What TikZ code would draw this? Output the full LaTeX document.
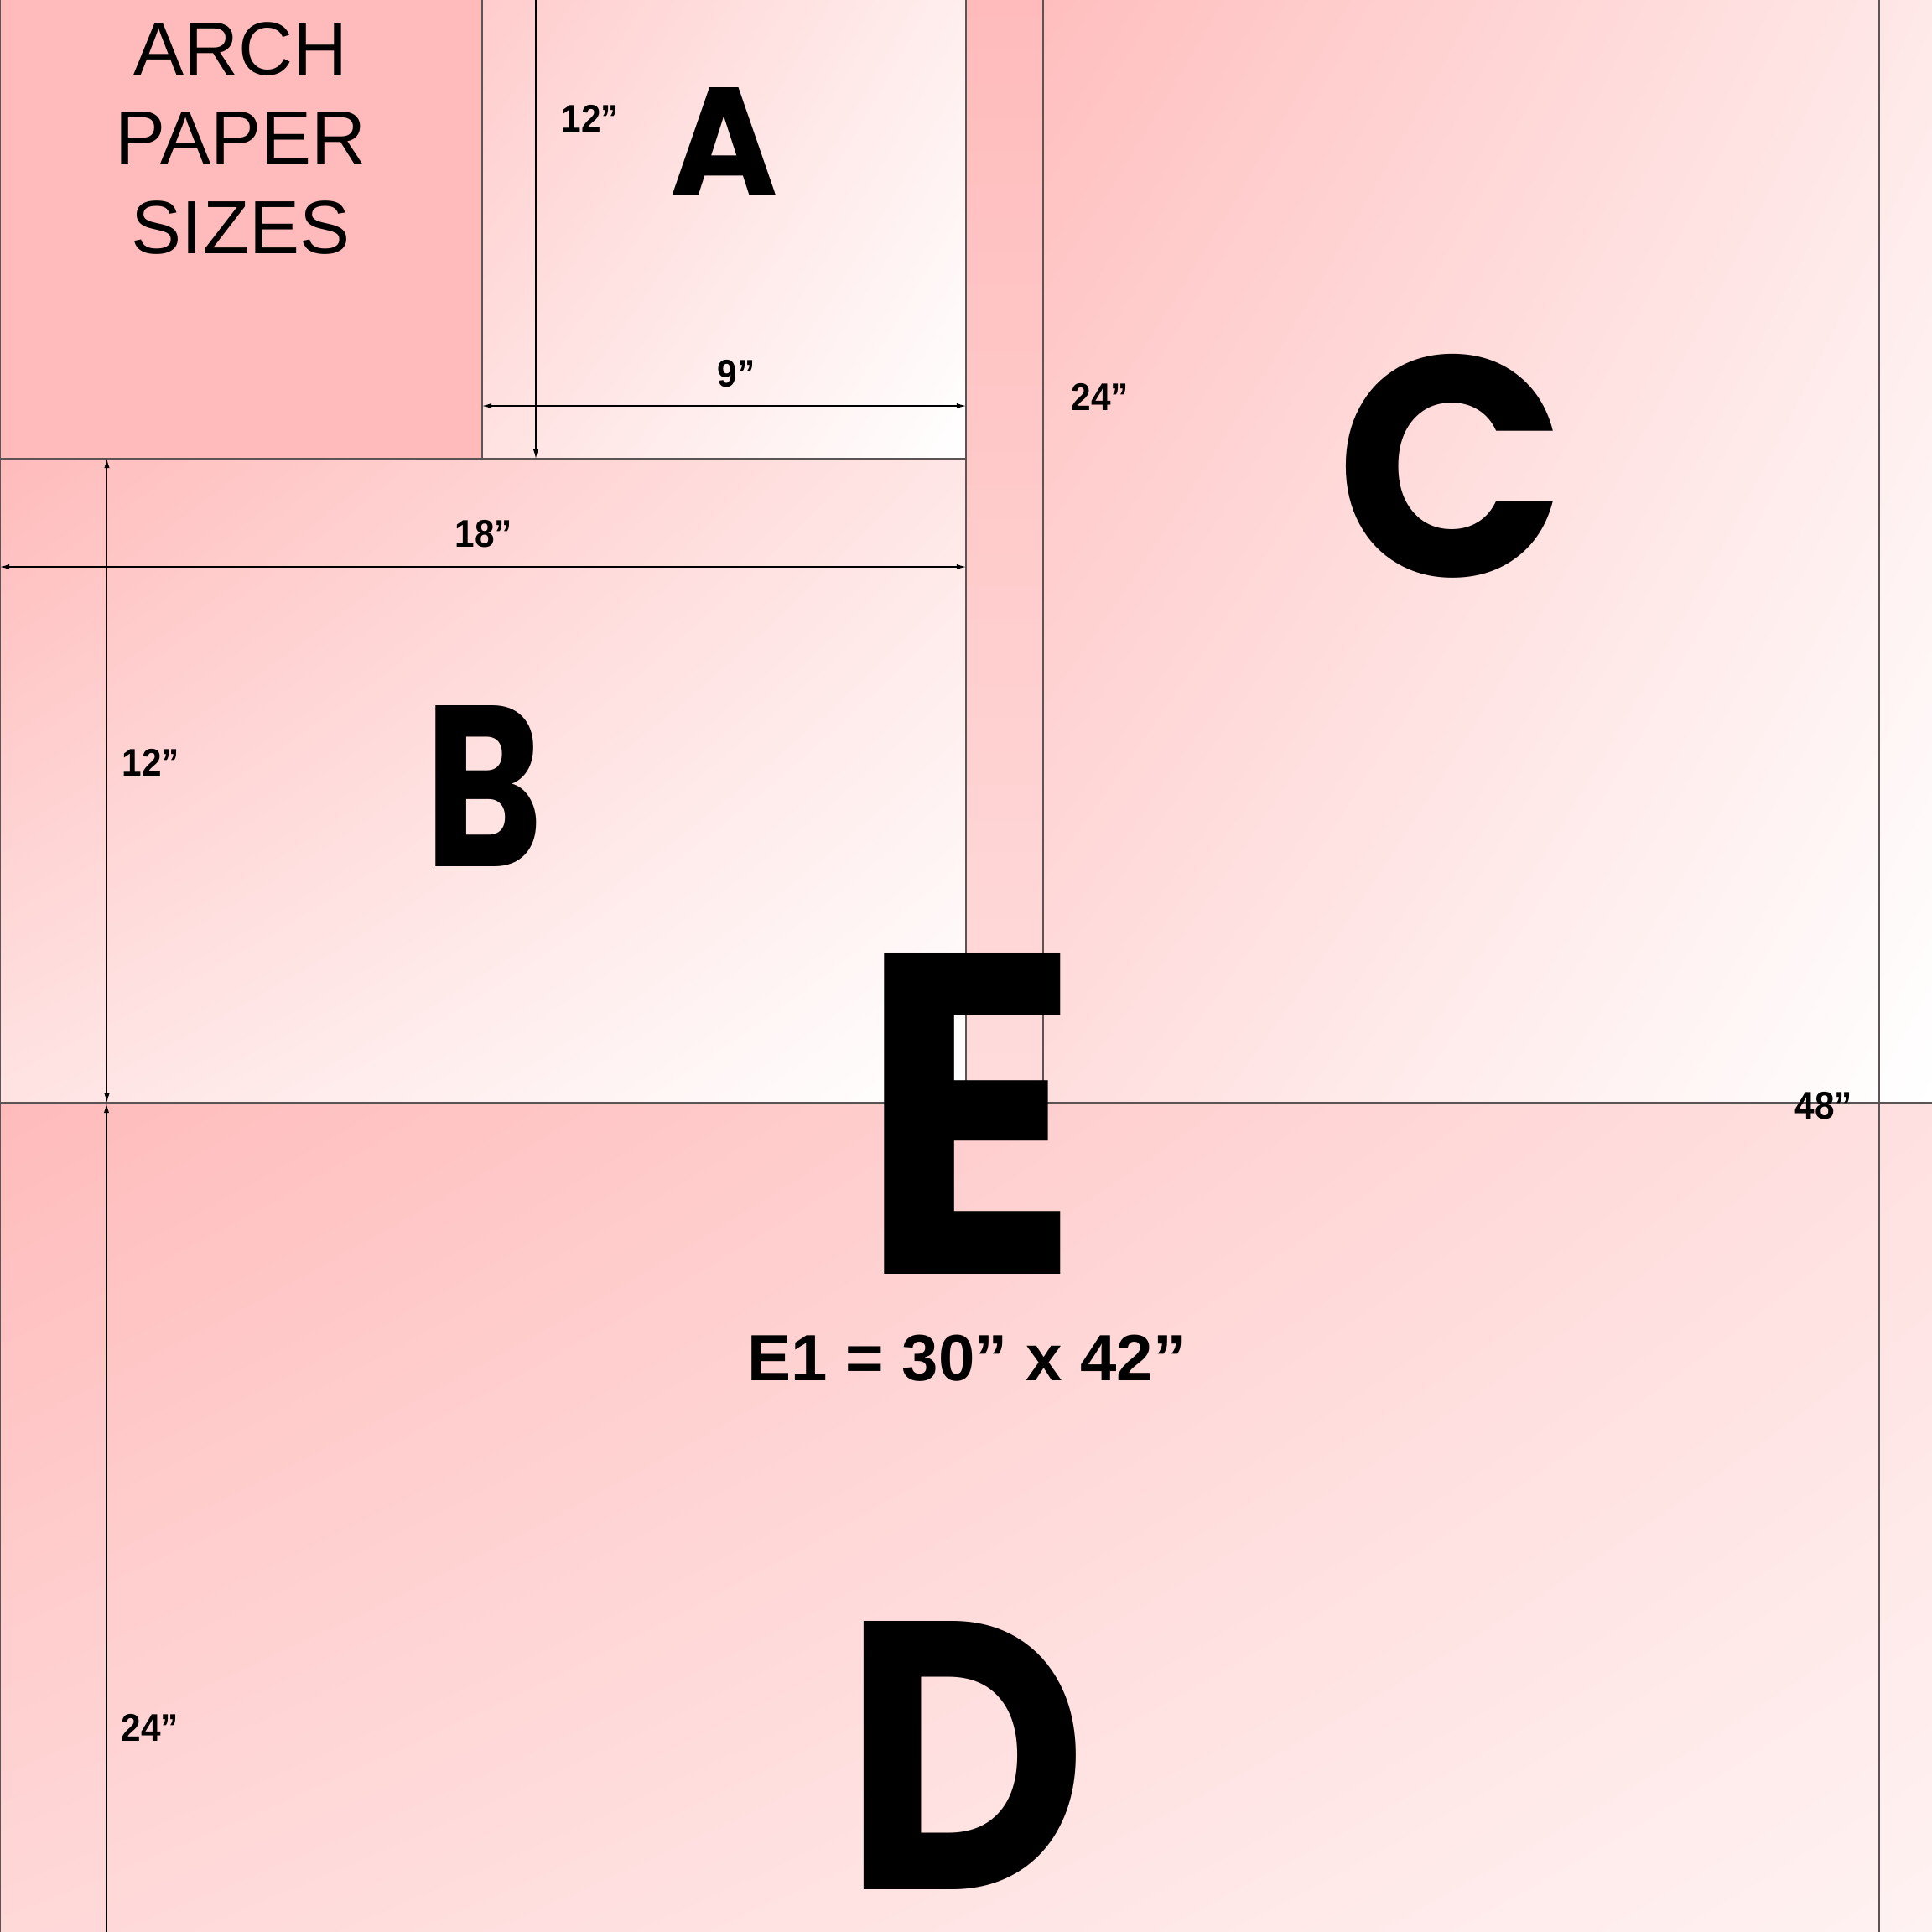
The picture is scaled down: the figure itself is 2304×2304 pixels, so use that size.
\documentclass[tikz,border=0pt]{standalone}
\usepackage{graphicx}
\usepackage{fontspec}
\setmainfont{Liberation Sans}
\newfontfamily\bigfont{Poppins}
\newfontfamily\lblfont{Liberation Sans}[FakeStretch=0.92]
\usetikzlibrary{arrows.meta,shadings}
\definecolor{pinkbase}{RGB}{255,187,187}
\definecolor{stripbot}{RGB}{255,220,220}
\definecolor{aUL}{RGB}{255,204,204}
\definecolor{aUR}{RGB}{255,238,238}
\definecolor{aLL}{RGB}{255,226,226}
\definecolor{bUL}{RGB}{255,187,187}
\definecolor{bUR}{RGB}{255,230,230}
\definecolor{bLL}{RGB}{255,227,227}
\definecolor{cUL}{RGB}{255,190,190}
\definecolor{cUR}{RGB}{255,232,232}
\definecolor{cLL}{RGB}{255,222,222}
\definecolor{dUL}{RGB}{255,187,187}
\definecolor{dUR}{RGB}{255,224,224}
\definecolor{dLL}{RGB}{255,216,216}
\definecolor{dLR}{RGB}{255,242,242}
\definecolor{rulegray}{RGB}{90,84,84}
\newcommand\inkletter[3]{%
  \begingroup
  \setbox0=\hbox{#1}%
  \dimen0=\XeTeXglyphbounds1 \XeTeXcharglyph`#1\relax
  \dimen2=\XeTeXglyphbounds3 \XeTeXcharglyph`#1\relax
  \setbox2=\hbox{\kern-\dimen0\box0\kern-\dimen2}%
  \resizebox*{#2}{#3}{\box2}%
  \endgroup}
\begin{document}
\begin{tikzpicture}[x=0.25pt,y=-0.25pt,
  rule/.style={draw=rulegray,line width=0.38pt},
  dimline/.style={draw=black,line width=0.33pt},
  dimboth/.style={dimline,{Latex[length=2.8pt,width=1.6pt]}-{Latex[length=2.8pt,width=1.6pt]}},
  dimend/.style={dimline,-{Latex[length=2.8pt,width=1.6pt]}},
  dimstart/.style={dimline,{Latex[length=2.8pt,width=1.6pt]}-},
  bigL/.style={inner sep=0pt,outer sep=0pt,font=\bigfont\bfseries\fontsize{100}{100}\selectfont},
  lbl/.style={inner sep=0pt,font=\lblfont\bfseries\fontsize{11.5}{13}\selectfont},
  title/.style={inner sep=0pt,align=center,font=\fontsize{22.5}{26.6}\selectfont}]
\useasboundingbox (0,0) rectangle (2304,2304);
\clip (0,0) rectangle (2304,2304);

% sheets
\shade[upper left=pinkbase,upper right=pinkbase,lower left=stripbot,lower right=stripbot] (0,0) rectangle (1244,1315);
\fill[pinkbase] (0,0) rectangle (575,547);
\shade[upper left=aUL,upper right=aUR,lower left=aLL,lower right=white] (575,0) rectangle (1152,547);
\shade[upper left=bUL,upper right=bUR,lower left=bLL,lower right=white] (0,547) rectangle (1152,1315);
\shade[upper left=cUL,upper right=cUR,lower left=cLL,lower right=white] (1244,0) rectangle (2304,1315);
\shade[upper left=dUL,upper right=dUR,lower left=dLL,lower right=dLR] (0,1315) rectangle (2304,2304);

% sheet edges
\draw[rule] (0.7,0) -- (0.7,2304);
\draw[rule] (575,0) -- (575,547);
\draw[rule] (0,547) -- (1152,547);
\draw[rule] (1152,0) -- (1152,1315);
\draw[rule] (1244,0) -- (1244,1315);
\draw[rule] (0,1315) -- (2304,1315);
\draw[rule] (2241,0) -- (2241,2304);

% dimension connectors
\coordinate (aTop) at (639,-20);
\coordinate (aBot) at (639,547);
\coordinate (nineL) at (575,484);
\coordinate (nineR) at (1152,484);
\coordinate (eighteenL) at (0,676);
\coordinate (eighteenR) at (1152,676);
\coordinate (bTop) at (127.5,547);
\coordinate (bBot) at (127.5,1315);
\coordinate (dTop) at (127,1316);
\coordinate (dBot) at (127,2330);
\draw[dimend] (aTop) -- (aBot);
\draw[dimboth] (nineL) -- (nineR);
\draw[dimboth] (eighteenL) -- (eighteenR);
\draw[dimboth] (bTop) -- (bBot);
\draw[dimstart] (dTop) -- (dBot);

% dimension labels
\node[lbl] (lA12) at (704,141) {12”};
\node[lbl] (lA9) at (878,446) {9”};
\node[lbl] (lB18) at (577,637) {18”};
\node[lbl] (lB12) at (180,909) {12”};
\node[lbl] (lC24) at (1312,473) {24”};
\node[lbl] (lD24) at (179,2060) {24”};
\node[lbl] (lE48) at (2175,1319) {48”};

% title
\node[title] (ttl) at (287,165) {ARCH\\PAPER\\SIZES};

% big letters
\node[bigL] (letA) at (863.5,168) {\inkletter{A}{30.75pt}{32pt}};
\node[bigL] (letB) at (580,937) {\inkletter{B}{30pt}{48pt}};
\node[bigL] (letC) at (1729,556) {\inkletter{C}{61.75pt}{66.75pt}};
\node[bigL] (letD) at (1157,2093) {\inkletter{D}{63.25pt}{80pt}};
\node[bigL] (letE) at (1160,1327.5) {\inkletter{E}{52.5pt}{95.75pt}};

% E1 note
\node[inner sep=0pt,font=\bfseries\fontsize{19.5}{22}\selectfont] (e1) at (1153,1619.5) {E1 = 30” x 42”};
\end{tikzpicture}
\end{document}
